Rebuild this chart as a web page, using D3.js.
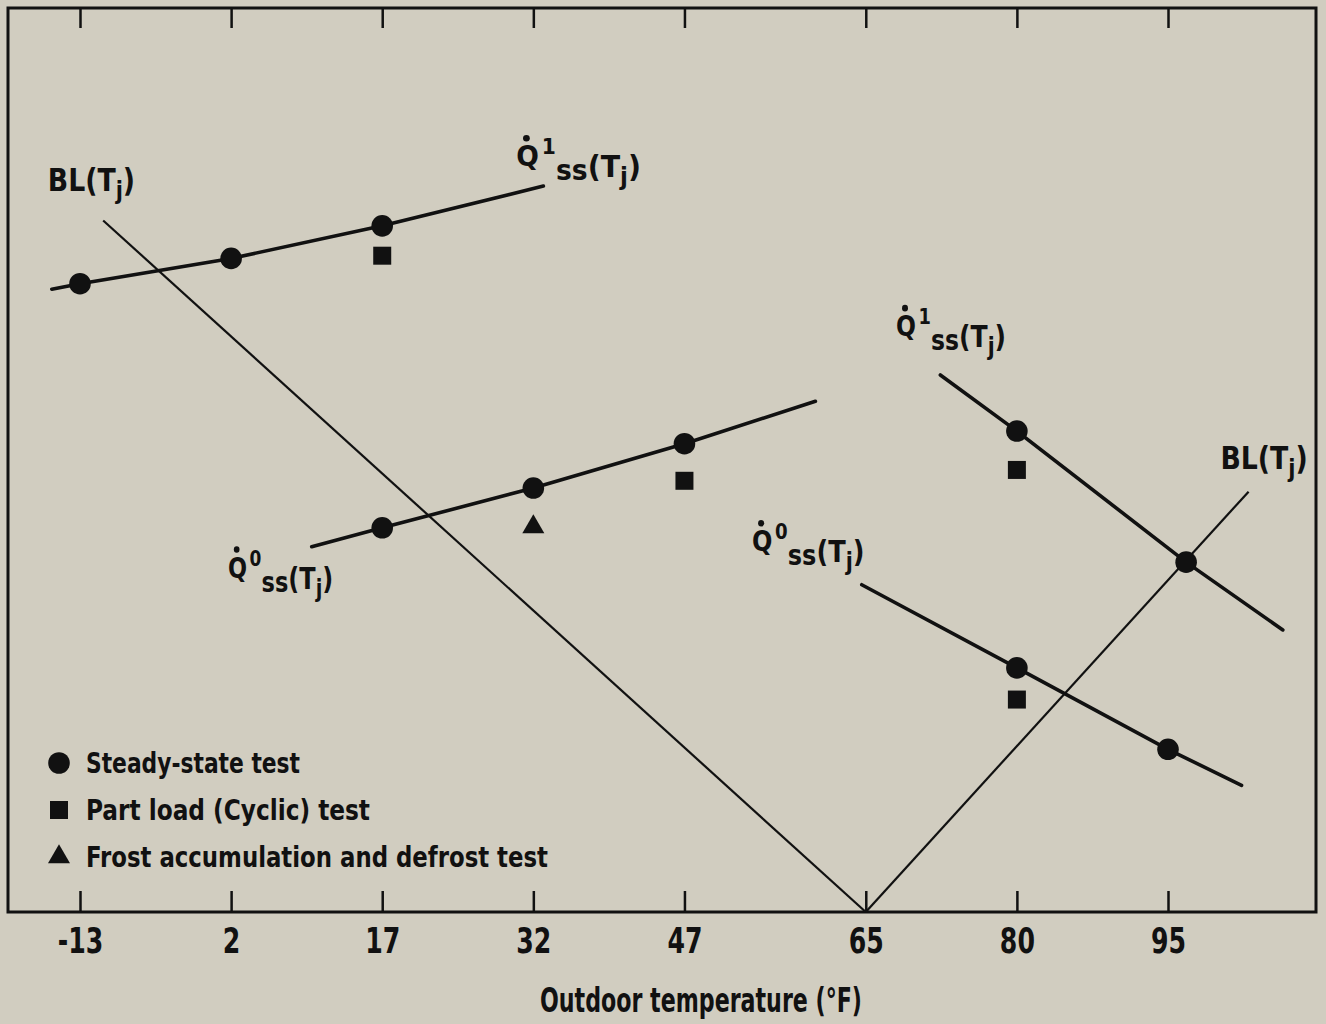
<!DOCTYPE html>
<html>
<head>
<meta charset="utf-8">
<script src="https://cdn.jsdelivr.net/npm/d3@7"></script>
<style>
  html, body { margin: 0; padding: 0; background: #d1cdc0; }
  svg { display: block; }
  .lbl { font-family: "Liberation Sans Narrow", "DejaVu Sans Condensed", "Roboto Condensed", sans-serif; font-weight: bold; fill: #111; }
</style>
</head>
<body>
<svg id="chart" width="1326" height="1024"></svg>
<script>
// ---- Data (outdoor temperature °F, relative load/capacity units) ----
const tickTemps  = [-13, 2, 17, 32, 47, 65, 80, 95];
const tickLabels = ["-13", "2", "17", "32", "47", "65", "80", "95"];

// Heating, high-speed steady-state capacity Q1ss(Tj)
const heatQ1Temp = [-15.8, -13, 2, 17, 33];
const heatQ1Cap  = [68.9, 69.5, 72.3, 75.9, 80.3];
// Heating, low-speed steady-state capacity Q0ss(Tj)
const heatQ0Temp = [10, 17, 32, 47, 60];
const heatQ0Cap  = [40.4, 42.5, 46.9, 51.8, 56.5];
// Heating building load BL(Tj)
const blHeatTemp = [-10.7, 65];
const blHeatLoad = [76.5, 0];
// Cooling building load BL(Tj)
const blCoolTemp = [65, 103];
const blCoolLoad = [0, 46.5];
// Cooling, high-speed steady-state capacity Q1ss(Tj)
const coolQ1Temp = [72.4, 80, 96.8, 106.4];
const coolQ1Cap  = [59.4, 53.2, 38.7, 31.2];
// Cooling, low-speed steady-state capacity Q0ss(Tj)
const coolQ0Temp = [64.6, 80, 95, 102.3];
const coolQ0Cap  = [36.2, 27.0, 18.0, 14.0];

// Test points
const steadyTemp = [-13, 2, 17, 17, 32, 47, 80, 96.8, 80, 95];
const steadyVal  = [69.5, 72.3, 75.9, 42.5, 46.9, 51.8, 53.2, 38.7, 27.0, 18.0];
const cyclicTemp = [17, 47, 80, 80];
const cyclicVal  = [72.6, 47.7, 48.9, 23.5];
const frostTemp  = [32];
const frostVal   = [42.6];

const legendLabels = ["Steady-state test", "Part load (Cyclic) test", "Frost accumulation and defrost test"];
const axisTitle = "Outdoor temperature (°F)";

// ---- Layout ----
const frame = { left: 8, top: 8, right: 1316, bottom: 912 };
const svg = d3.select("#chart");

const x = d3.scaleLinear().domain([-13, 95]).range([80, 1168]);
const y = d3.scaleLinear().domain([0, 100]).range([frame.bottom, frame.top]);

const zip = (a, b) => a.map((d, i) => [d, b[i]]);
const line = d3.line().x(d => x(d[0])).y(d => y(d[1]));

// background
svg.append("rect").attr("width", 1326).attr("height", 1024).attr("fill", "#d1cdc0");

// axes
const bottomAxis = d3.axisBottom(x).tickValues(tickTemps)
  .tickFormat((d, i) => tickLabels[i]).tickSizeInner(-21).tickSizeOuter(0).tickPadding(16);
const gB = svg.append("g").attr("transform", `translate(0,${frame.bottom})`).call(bottomAxis);
const topAxis = d3.axisTop(x).tickValues(tickTemps).tickFormat("").tickSizeInner(-20).tickSizeOuter(0);
const gT = svg.append("g").attr("transform", `translate(0,${frame.top})`).call(topAxis);
[gB, gT].forEach(g => {
  g.select(".domain").remove();
  g.selectAll(".tick line").attr("stroke", "#111").attr("stroke-width", 2.5);
});
gB.selectAll(".tick text").attr("class", "lbl").attr("font-size", 35).attr("dy", "0.71em")
  .attr("transform", "scale(0.8,1)");

// frame
svg.append("rect")
  .attr("x", frame.left).attr("y", frame.top)
  .attr("width", frame.right - frame.left).attr("height", frame.bottom - frame.top)
  .attr("fill", "none").attr("stroke", "#111").attr("stroke-width", 3);

// lines
const thick = [zip(heatQ1Temp, heatQ1Cap), zip(heatQ0Temp, heatQ0Cap), zip(coolQ1Temp, coolQ1Cap), zip(coolQ0Temp, coolQ0Cap)];
const thin  = [zip(blHeatTemp, blHeatLoad), zip(blCoolTemp, blCoolLoad)];
svg.append("g").selectAll("path").data(thin).join("path")
  .attr("d", line).attr("fill", "none").attr("stroke", "#111").attr("stroke-width", 2.2);
svg.append("g").selectAll("path").data(thick).join("path")
  .attr("d", line).attr("fill", "none").attr("stroke", "#111").attr("stroke-width", 3.6).attr("stroke-linecap", "round");

// markers
const sym = {
  circle: d3.symbol().type(d3.symbolCircle).size(Math.PI * 10.8 * 10.8),
  square: d3.symbol().type(d3.symbolSquare).size(18 * 18),
  tri: d3.symbol().type(d3.symbolTriangle).size(210)
};
svg.append("g").selectAll("path").data(zip(steadyTemp, steadyVal)).join("path")
  .attr("d", sym.circle()).attr("transform", d => `translate(${x(d[0])},${y(d[1])})`).attr("fill", "#111");
svg.append("g").selectAll("path").data(zip(cyclicTemp, cyclicVal)).join("path")
  .attr("d", sym.square()).attr("transform", d => `translate(${x(d[0])},${y(d[1])})`).attr("fill", "#111");
svg.append("g").selectAll("path").data(zip(frostTemp, frostVal)).join("path")
  .attr("d", sym.tri()).attr("transform", d => `translate(${x(d[0])},${y(d[1])})`).attr("fill", "#111");

// annotation labels
function blLabel(px, py) {
  const t = svg.append("text").attr("class", "lbl")
    .attr("transform", `translate(${px},${py}) scale(0.93,1)`).attr("font-size", 32);
  t.append("tspan").text("BL(T");
  t.append("tspan").attr("dy", 8).attr("font-size", 25).text("j");
  t.append("tspan").attr("dy", -8).text(")");
}
function qLabel(px, py, sup, sx) {
  const g = svg.append("g").attr("transform", `translate(${px},${py}) scale(${sx},1)`);
  g.append("text").attr("class", "lbl").attr("font-size", 29).text("Q");
  g.append("circle").attr("cx", 10).attr("cy", -28).attr("r", 3.3).attr("fill", "#111");
  g.append("text").attr("class", "lbl").attr("x", 25).attr("y", -12).attr("font-size", 22).text(sup);
  const t = g.append("text").attr("class", "lbl").attr("x", 39).attr("y", 14).attr("font-size", 29);
  t.append("tspan").text("ss");
  t.append("tspan").attr("dy", -3).attr("font-size", 31).text("(T");
  t.append("tspan").attr("dy", 8).attr("font-size", 25).text("j");
  t.append("tspan").attr("dy", -8).attr("font-size", 31).text(")");
}
blLabel(x(-16.2), y(79.8));
qLabel(x(30.3), y(82.5), "1", 1.02);
qLabel(x(1.7), y(37.0), "0", 0.86);
qLabel(x(68.0), y(63.7), "1", 0.9);
qLabel(x(53.7), y(39.9), "0", 0.92);
blLabel(x(100.2), y(49.0));

// legend
const legend = svg.append("g");
const legY = [763, 810, 857];
const legW = [214, 284, 462];
const legSyms = [sym.circle, sym.square, sym.tri];
legendLabels.forEach((lab, i) => {
  legend.append("path").attr("d", legSyms[i]()).attr("transform", `translate(59,${legY[i]})`).attr("fill", "#111");
  legend.append("text").attr("class", "lbl").attr("x", 86).attr("y", legY[i]).attr("dy", "0.36em")
    .attr("font-size", 29).attr("textLength", legW[i]).attr("lengthAdjust", "spacingAndGlyphs").text(lab);
});

// axis title
svg.append("text").attr("class", "lbl").attr("x", 540).attr("y", 1012)
  .attr("font-size", 33).attr("textLength", 322).attr("lengthAdjust", "spacingAndGlyphs").text(axisTitle);
</script>
</body>
</html>
